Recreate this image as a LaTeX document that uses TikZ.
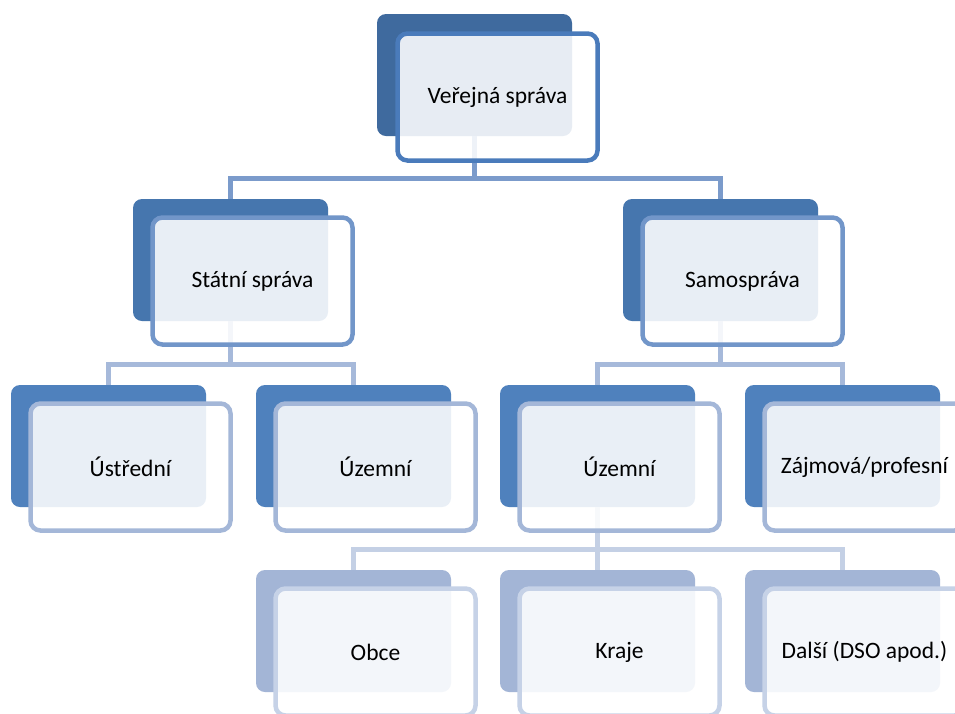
\documentclass[tikz,border=0pt]{standalone}
\usepackage{fontspec}
\setmainfont{Carlito}
\definecolor{backA}{HTML}{3F6A9E}
\definecolor{backB}{HTML}{4676AE}
\definecolor{backC}{HTML}{4F81BD}
\definecolor{backD}{HTML}{A3B5D6}
\definecolor{rimA}{HTML}{4A7BBB}
\definecolor{rimB}{HTML}{7296C9}
\definecolor{rimC}{HTML}{A4B7D8}
\definecolor{rimD}{HTML}{C6D2E7}
\definecolor{lineA}{HTML}{7B9BCB}
\definecolor{lineB}{HTML}{A6B9DA}
\definecolor{lineC}{HTML}{C4D0E5}
\tikzset{
  back/.style={rectangle, rounded corners=9pt, fill=#1, draw=none,
    minimum width=195pt, minimum height=122pt, inner sep=0pt, outer sep=0pt,
    anchor=north west},
  front/.style={rectangle, rounded corners=10pt, draw=#1, line width=4.5pt,
    fill=white, fill opacity=0.88, text opacity=1,
    minimum width=200pt, minimum height=127pt, inner sep=0pt, outer sep=0pt,
    anchor=north west, font=\fontsize{23.5}{28}\selectfont, text=black},
  conn/.style={draw=#1, line width=5pt, line cap=butt, line join=miter}
}
\begin{document}
\begin{tikzpicture}[x=1pt,y=-1pt]
\clip (0,0) rectangle (955,713);
\fill[white] (0,0) rectangle (955,713);

% back plates
\node[back=backA] (vsB)  at (377,14)  {};
\node[back=backB] (ssB)  at (133,199) {};
\node[back=backB] (samB) at (623,199) {};
\node[back=backC] (ustB) at (11,385)  {};
\node[back=backC] (uzsB) at (256,385) {};
\node[back=backC] (uzaB) at (500,385) {};
\node[back=backC] (zajB) at (745,385) {};
\node[back=backD] (obB)  at (256,570) {};
\node[back=backD] (krB)  at (500,570) {};
\node[back=backD] (dalB) at (745,570) {};

% connectors
\coordinate (bus1) at (0,178.5);
\coordinate (bus2) at (0,364.5);
\coordinate (bus3) at (0,549.5);
\draw[conn=lineA] (vsB.south) -- (vsB.south |- bus1);
\draw[conn=lineA] (ssB.north) -- (ssB.north |- bus1) -- (samB.north |- bus1) -- (samB.north);
\draw[conn=lineB] (ssB.south) -- (ssB.south |- bus2);
\draw[conn=lineB] (ustB.north) -- (ustB.north |- bus2) -- (uzsB.north |- bus2) -- (uzsB.north);
\draw[conn=lineB] (samB.south) -- (samB.south |- bus2);
\draw[conn=lineB] (uzaB.north) -- (uzaB.north |- bus2) -- (zajB.north |- bus2) -- (zajB.north);
\draw[conn=lineC] (uzaB.south) -- (uzaB.south |- bus3);
\draw[conn=lineC] (obB.north) -- (obB.north |- bus3) -- (dalB.north |- bus3) -- (dalB.north);
\draw[conn=lineC] (krB.north) -- (krB.north |- bus3);

% front cards with labels
\node[front=rimA] (vs)  at ([shift={(20.5,19.5)}]vsB.north west) {Veřejná správa};
\node[front=rimB] (ss)  at ([shift={(19.5,18.5)}]ssB.north west) {Státní správa};
\node[front=rimB] (sam) at ([shift={(19.5,18.5)}]samB.north west) {Samospráva};
\node[front=rimC] (ust) at ([shift={(19.5,18.5)}]ustB.north west) {Ústřední};
\node[front=rimC] (uzs) at ([shift={(19.5,18.5)}]uzsB.north west) {Územní};
\node[front=rimC] (uza) at ([shift={(19.5,18.5)}]uzaB.north west) {Územní};
\node[front=rimC] (zaj) at ([shift={(19.5,18.5)}]zajB.north west) {Zájmová/profesní};
\node[front=rimD] (ob)  at ([shift={(19.5,18.5)}]obB.north west) {Obce};
\node[front=rimD] (kr)  at ([shift={(19.5,18.5)}]krB.north west) {Kraje};
\node[front=rimD] (dal) at ([shift={(19.5,18.5)}]dalB.north west) {Další (DSO apod.)};
\end{tikzpicture}
\end{document}
